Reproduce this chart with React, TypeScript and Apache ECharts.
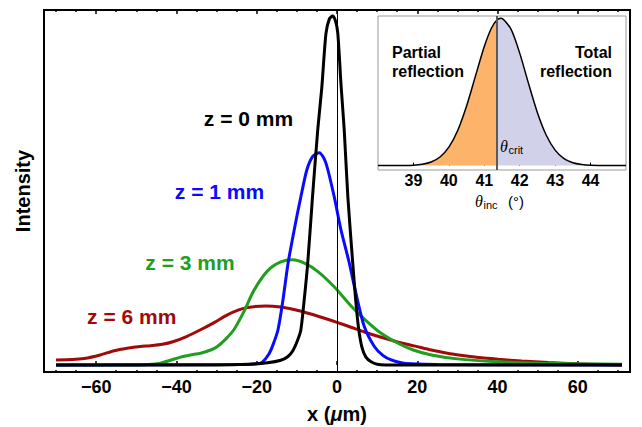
import React, { useEffect, useRef } from 'react';
import * as echarts from 'echarts';

// ---- Main plot data (x in µm, intensity normalised) ----
const X_MAJOR = [-60, -40, -20, 0, 20, 40, 60];
const X_MINOR = [-70, -65, -55, -50, -45, -35, -30, -25, -15, -10, -5, 5, 10, 15, 25, 30, 35, 45, 50, 55, 65, 70];

const Z0_BLACK: number[][] = [
  [-70, 0], [-30, 0], [-22, 0.002], [-17.3, 0.006], [-14, 0.013], [-12.3, 0.023], [-11, 0.04],
  [-9.8, 0.07], [-9, 0.099], [-8.2, 0.18], [-7.3, 0.286], [-6.1, 0.474], [-4.8, 0.662], [-3.8, 0.78],
  [-2.75, 0.934], [-1.9, 0.975], [-1.1, 0.983], [-0.4, 0.97], [0.2, 0.934], [1.0, 0.79], [1.8, 0.662],
  [2.7, 0.474], [3.9, 0.29], [4.6, 0.19], [5.3, 0.11], [6.2, 0.05], [7.2, 0.022], [8.5, 0.009],
  [10, 0.002], [12, 0], [71, 0],
];
const Z1_BLUE: number[][] = [
  [-70, 0], [-25, 0.001], [-20, 0.003], [-18.6, 0.008], [-17, 0.03], [-16, 0.055], [-14.7, 0.099],
  [-13.5, 0.18], [-12.2, 0.286], [-10.5, 0.39], [-9, 0.474], [-7.5, 0.55], [-6, 0.588], [-4.4, 0.598],
  [-2.8, 0.57], [-0.7, 0.474], [1, 0.38], [3, 0.29], [4.75, 0.2], [6.8, 0.108], [9.3, 0.052],
  [11.5, 0.026], [13.5, 0.014], [16, 0.006], [18.5, 0.003], [25, 0.001], [71, 0],
];
const Z3_GREEN: number[][] = [
  [-70, 0], [-50, 0], [-47, 0.001], [-44, 0.005], [-41.5, 0.013], [-39, 0.022], [-36.5, 0.028],
  [-34, 0.033], [-31.5, 0.042], [-29.8, 0.052], [-27.8, 0.072], [-25.7, 0.099], [-23.2, 0.15],
  [-20.7, 0.21], [-17.3, 0.265], [-14, 0.29], [-11.1, 0.296], [-8, 0.286], [-4.75, 0.263],
  [-0.7, 0.22], [3.5, 0.166], [7.5, 0.122], [11, 0.089], [15.2, 0.061], [19, 0.042], [23.5, 0.028],
  [30, 0.017], [40, 0.009], [50, 0.005], [60, 0.003], [71, 0.002],
];
const Z6_RED: number[][] = [
  [-70, 0.014], [-66, 0.015], [-63, 0.018], [-59, 0.028], [-55.5, 0.04], [-52.3, 0.047], [-49, 0.052],
  [-46.5, 0.054], [-43.5, 0.058], [-40.7, 0.066], [-37.5, 0.08], [-34, 0.099], [-30.5, 0.12],
  [-27.3, 0.141], [-24.5, 0.155], [-22.3, 0.162], [-17.75, 0.166], [-14, 0.163], [-10.7, 0.156],
  [-7, 0.145], [-3.5, 0.133], [0, 0.12], [3.5, 0.106], [7, 0.092], [11, 0.078], [15, 0.065],
  [19.5, 0.053], [23.5, 0.042], [27.5, 0.033], [31.8, 0.026], [36, 0.02], [40.2, 0.016], [46, 0.011],
  [52.7, 0.0065], [60, 0.003], [66, 0.001], [71, 0],
];

// ---- Inset data (angle in degrees) ----
const THETA_CRIT = 41.35;
const INSET_PARTIAL: number[][] = [
  [38, 0], [38.5, 0.0002], [39, 0.003], [39.25, 0.009], [39.5, 0.024], [39.75, 0.058], [40, 0.125],
  [40.25, 0.238], [40.5, 0.404], [40.75, 0.607], [41, 0.808], [41.2, 0.932], [41.35, 0.986],
];
const INSET_TOTAL: number[][] = [
  [41.35, 0.986], [41.47, 1], [41.75, 0.927], [42, 0.763], [42.25, 0.556], [42.5, 0.359], [42.75, 0.206],
  [43, 0.105], [43.25, 0.047], [43.5, 0.019], [43.75, 0.007], [44, 0.002], [44.5, 0.0001], [45, 0],
];
const INSET_TICKS = [39, 40, 41, 42, 43, 44];

const FONT = '"Liberation Sans", Arial, Helvetica, sans-serif';
const SERIF = '"Liberation Serif", "Times New Roman", serif';
const C_BLACK = '#000000';
const C_BLUE = '#0a0aff';
const C_GREEN = '#1f9e1f';
const C_RED = '#a00a0a';

const fmtMinus = (v: number) => (v < 0 ? '\u2212' + Math.abs(v) : String(v));

export default function App() {
  const ref = useRef<HTMLDivElement>(null);
  useEffect(() => {
    const chart = echarts.init(ref.current!, null, { renderer: 'svg' });
    const mainLine = (name: string, data: number[][], color: string, extra: any = {}) => ({
      name,
      type: 'line',
      xAxisIndex: 0,
      yAxisIndex: 0,
      data,
      showSymbol: false,
      smooth: 0.25,
      lineStyle: { color, width: 3 },
      itemStyle: { color },
      z: 3,
      ...extra,
    });
    const txt = (x: number, y: number, text: string, font: string, fill: string, align = 'center', extra: any = {}) => ({
      type: 'text', x, y, z: 10, ...extra,
      style: { text, font, fill, textAlign: align, textVerticalAlign: 'middle', align, verticalAlign: 'middle' },
    });
    const option: any = {
      animation: false,
      backgroundColor: '#ffffff',
      grid: [
        { left: 44, right: 12, top: 10, bottom: 55, show: true, borderColor: '#000', borderWidth: 2, backgroundColor: 'transparent' },
        { left: 378, top: 16, width: 248, height: 154, show: true, borderColor: '#999', borderWidth: 1, backgroundColor: '#ffffff' },
      ],
      xAxis: [
        {
          gridIndex: 0, type: 'value', position: 'bottom', min: -73, max: 73,
          axisLine: { show: false }, splitLine: { show: false },
          axisTick: { show: true, inside: true, length: 4, customValues: X_MAJOR, lineStyle: { color: '#000', width: 1.5 } },
          axisLabel: {
            show: true, customValues: X_MAJOR, formatter: fmtMinus, color: '#000',
            fontFamily: FONT, fontWeight: 'bold', fontSize: 18, margin: 6,
          },
        },
        {
          gridIndex: 0, type: 'value', position: 'bottom', min: -73, max: 73,
          axisLine: { show: false }, splitLine: { show: false }, axisLabel: { show: false },
          axisTick: { show: true, inside: true, length: 2, customValues: X_MINOR, lineStyle: { color: '#000', width: 1.5 } },
        },
        {
          gridIndex: 0, type: 'value', position: 'top', min: -73, max: 73,
          axisLine: { show: false }, splitLine: { show: false }, axisLabel: { show: false },
          axisTick: { show: true, inside: true, length: 4, customValues: X_MAJOR, lineStyle: { color: '#000', width: 1.5 } },
        },
        {
          gridIndex: 0, type: 'value', position: 'top', min: -73, max: 73,
          axisLine: { show: false }, splitLine: { show: false }, axisLabel: { show: false },
          axisTick: { show: true, inside: true, length: 2, customValues: X_MINOR, lineStyle: { color: '#000', width: 1.5 } },
        },
        {
          gridIndex: 1, type: 'value', position: 'bottom', min: 38, max: 45, interval: 1,
          axisLine: { show: false }, splitLine: { show: false },
          axisTick: { show: true, inside: true, length: 3, customValues: INSET_TICKS, lineStyle: { color: '#000', width: 1 } },
          axisLabel: {
            show: true, customValues: INSET_TICKS, color: '#000', fontFamily: FONT, fontWeight: 'bold', fontSize: 16, margin: 2,
          },
        },
      ],
      yAxis: [
        { gridIndex: 0, type: 'value', min: -0.02, max: 1.0, show: false },
        { gridIndex: 1, type: 'value', min: -0.03, max: 1.015, show: false },
      ],
      series: [
        mainLine('z = 6 mm', Z6_RED, C_RED),
        mainLine('z = 3 mm', Z3_GREEN, C_GREEN),
        mainLine('z = 1 mm', Z1_BLUE, C_BLUE),
        mainLine('z = 0 mm', Z0_BLACK, C_BLACK, {
          markLine: {
            silent: true, symbol: ['none', 'none'], label: { show: false },
            lineStyle: { color: '#000', width: 1, type: 'solid' },
            data: [{ xAxis: 0 }],
          },
        }),
        {
          name: 'partial', type: 'line', xAxisIndex: 4, yAxisIndex: 1, data: INSET_PARTIAL,
          showSymbol: false, smooth: 0.25,
          lineStyle: { width: 0 }, areaStyle: { color: '#fdb36a', opacity: 1 }, z: 2,
        },
        {
          name: 'total', type: 'line', xAxisIndex: 4, yAxisIndex: 1, data: INSET_TOTAL,
          showSymbol: false, smooth: 0.25,
          lineStyle: { width: 0 }, areaStyle: { color: '#d2d1ea', opacity: 1 }, z: 2,
        },
        {
          name: 'inset', type: 'line', xAxisIndex: 4, yAxisIndex: 1, data: INSET_PARTIAL.concat(INSET_TOTAL.slice(1)),
          showSymbol: false, smooth: 0.25,
          lineStyle: { color: '#000', width: 1.5 }, z: 4,
          markLine: {
            silent: true, symbol: ['none', 'none'], label: { show: false },
            lineStyle: { color: '#5a5a5a', width: 2, type: 'solid' },
            data: [{ xAxis: THETA_CRIT }],
          },
        },
      ],
      graphic: [
        txt(248.5, 118.5, 'z = 0 mm', `bold 21px ${FONT}`, C_BLACK),
        txt(219.5, 191, 'z = 1 mm', `bold 21px ${FONT}`, C_BLUE),
        txt(190, 262.5, 'z = 3 mm', `bold 21px ${FONT}`, C_GREEN),
        txt(131.7, 316.5, 'z = 6 mm', `bold 21px ${FONT}`, C_RED),
        txt(23, 191, 'Intensity', `bold 20px ${FONT}`, '#000', 'center', { rotation: Math.PI / 2 }),
        {
          type: 'text', x: 337, y: 414,
          style: {
            text: '{b|x (}{i|\u03bc}{b|m)}', textAlign: 'center', textVerticalAlign: 'middle', align: 'center', verticalAlign: 'middle',
            rich: {
              b: { fontFamily: FONT, fontWeight: 'bold', fontSize: 20, fill: '#000', color: '#000' },
              i: { fontFamily: FONT, fontWeight: 'bold', fontStyle: 'italic', fontSize: 20, fill: '#000', color: '#000' },
            },
          },
        },
        txt(392, 52.5, 'Partial', `bold 16px ${FONT}`, '#000', 'left'),
        txt(392, 71.5, 'reflection', `bold 16px ${FONT}`, '#000', 'left'),
        txt(612, 52.5, 'Total', `bold 16px ${FONT}`, '#000', 'right'),
        txt(612, 71.5, 'reflection', `bold 16px ${FONT}`, '#000', 'right'),
        txt(500, 146, '\u03b8', `italic 16px ${SERIF}`, '#000', 'left'),
        txt(508.5, 150, 'crit', `11px ${FONT}`, '#000', 'left'),
        txt(475, 201, '\u03b8', `italic 16px ${SERIF}`, '#000', 'left'),
        txt(483.5, 205, 'inc', `11px ${FONT}`, '#000', 'left'),
        txt(508, 201, '(\u00b0)', `15px ${FONT}`, '#000', 'left'),
      ],
    };
    chart.setOption(option);
    return () => chart.dispose();
  }, []);
  return (
    <div
      ref={ref}
      style={{ position: 'fixed', left: 0, top: 0, width: 642, height: 427, background: '#fff' }}
    />
  );
}
